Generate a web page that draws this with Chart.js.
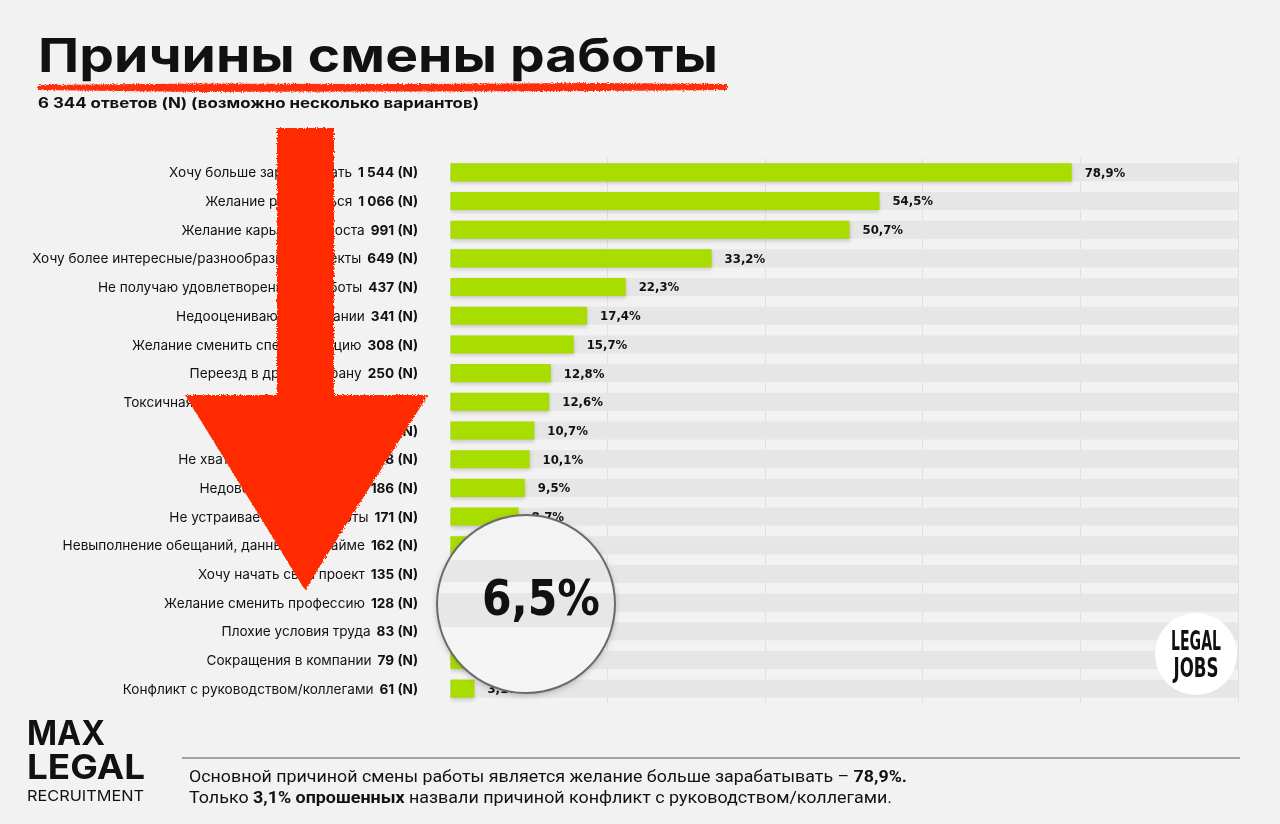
<!DOCTYPE html>
<html lang="ru">
<head>
<meta charset="utf-8">
<title>Причины смены работы</title>
<script src="https://cdn.jsdelivr.net/npm/chart.js@4.4.1/dist/chart.umd.min.js"></script>
<style>
  html, body { margin: 0; padding: 0; background: #f2f2f2; }
  #wrap { position: relative; width: 1280px; height: 824px; overflow: hidden; background: #f2f2f2; }
  #chart, #overlay { position: absolute; left: 0; top: 0; }
  #overlay { pointer-events: none; }
</style>
</head>
<body>
<div id="wrap">
  <canvas id="chart" width="1280" height="824"></canvas>

  <svg id="overlay" width="1280" height="824" viewBox="0 0 1280 824">
    <defs>
      <filter id="rough" x="-5%" y="-5%" width="110%" height="110%">
        <feTurbulence type="fractalNoise" baseFrequency="0.9" numOctaves="2" result="noise"/>
        <feDisplacementMap in="SourceGraphic" in2="noise" scale="4"/>
      </filter>
      <filter id="lensShadow" x="-20%" y="-20%" width="140%" height="140%">
        <feDropShadow dx="0" dy="2" stdDeviation="3" flood-color="#000" flood-opacity="0.25"/>
      </filter>
      <clipPath id="lens"><circle cx="526" cy="604" r="89"/></clipPath>
    </defs>

    <!-- заголовок -->
    <text x="38" y="72" font-family="Inter" font-weight="700" font-size="47" fill="#111"
          textLength="680" lengthAdjust="spacingAndGlyphs">Причины смены работы</text>
    <polygon filter="url(#rough)" fill="#ff2d10"
             points="38,85 200,83.5 400,84 600,83 727,84 727,90 600,91 400,91.5 200,92 38,90"/>
    <text x="38" y="108" font-family="Inter" font-weight="700" font-size="14" fill="#111"
          textLength="441" lengthAdjust="spacingAndGlyphs">6 344 ответов (N) (возможно несколько вариантов)</text>

    <!-- стрелка -->
    <polygon filter="url(#rough)" fill="#ff2a00"
             points="277,128 334,128 334,395 428,395 305,590 185,395 277,395"/>

    <!-- лупа -->
    <circle cx="526" cy="604" r="89" fill="#f3f3f3" filter="url(#lensShadow)"/>
    <g clip-path="url(#lens)">
      <rect x="430" y="560" width="200" height="22" fill="#e7e7e7"/>
      <rect x="430" y="593" width="200" height="34" fill="#e7e7e7"/>
      <rect x="430" y="627" width="200" height="70" fill="#f5f5f5"/>
    </g>
    <text x="541" y="615" text-anchor="middle" font-family="DejaVu Sans Condensed, DejaVu Sans" font-weight="700"
          font-size="50" fill="#111" textLength="118" lengthAdjust="spacingAndGlyphs">6,5%</text>
    <circle cx="526" cy="604" r="89" fill="none" stroke="#6b6b6b" stroke-width="2"/>

    <!-- логотип LEGAL JOBS -->
    <circle cx="1196" cy="654" r="41" fill="#ffffff"/>
    <text x="1196" y="650" text-anchor="middle" font-family="DejaVu Sans Condensed, DejaVu Sans" font-weight="700"
          font-size="27" fill="#111" textLength="50" lengthAdjust="spacingAndGlyphs">LEGAL</text>
    <text x="1196" y="677" text-anchor="middle" font-family="DejaVu Sans Condensed, DejaVu Sans" font-weight="700"
          font-size="27" fill="#111" textLength="45" lengthAdjust="spacingAndGlyphs">JOBS</text>

    <!-- подвал -->
    <text x="27" y="745" font-family="Inter" font-weight="700" font-size="34" fill="#111"
          textLength="78" lengthAdjust="spacingAndGlyphs">MAX</text>
    <text x="27" y="779" font-family="Inter" font-weight="700" font-size="34" fill="#111"
          textLength="118" lengthAdjust="spacingAndGlyphs">LEGAL</text>
    <text x="27" y="801" font-family="Inter" font-weight="400" font-size="15" fill="#111"
          textLength="117" lengthAdjust="spacingAndGlyphs">RECRUITMENT</text>

    <line x1="182" y1="758" x2="1240" y2="758" stroke="#a3a3a3" stroke-width="2"/>
    <text x="189" y="782" font-family="Roboto" font-size="16.5" fill="#111"
          textLength="718" lengthAdjust="spacingAndGlyphs">Основной причиной смены работы является желание больше зарабатывать – <tspan font-weight="700">78,9%.</tspan></text>
    <text x="189" y="803" font-family="Roboto" font-size="16.5" fill="#111"
          textLength="703" lengthAdjust="spacingAndGlyphs">Только <tspan font-weight="700">3,1% опрошенных</tspan> назвали причиной конфликт с руководством/коллегами.</text>
  </svg>
</div>

<script>
// Данные опроса
const categories = [
    'Хочу больше зарабатывать',
    'Желание развиваться',
    'Желание карьерного роста',
    'Хочу более интересные/разнообразные проекты',
    'Не получаю удовлетворения от работы',
    'Недооценивают в компании',
    'Желание сменить специализацию',
    'Переезд в другую страну',
    'Токсичная атмосфера в коллективе',
    'Нет перспектив роста',
    'Не хватает гибкого графика',
    'Недовольство графиком',
    'Не устраивает режим работы',
    'Невыполнение обещаний, данных при найме',
    'Хочу начать свой проект',
    'Желание сменить профессию',
    'Плохие условия труда',
    'Сокращения в компании',
    'Конфликт с руководством/коллегами'
];
const respondents = ['1 544', '1 066', '991', '649', '437', '341', '308', '250', '247', '209',
    '198', '186', '171', '162', '135', '128', '83', '79', '61'];
const percents = [78.9, 54.5, 50.7, 33.2, 22.3, 17.4, 15.7, 12.8, 12.6, 10.7,
    10.1, 9.5, 8.7, 8.3, 6.9, 6.5, 4.2, 4.0, 3.1];
const xTicks = [0, 20, 40, 60, 80, 100];

const barColor = '#a9dd00';
const trackColor = '#e6e6e6';

// Серые дорожки под столбцами (от 0 до максимума шкалы)
const trackPlugin = {
    id: 'tracks',
    beforeDatasetsDraw(chart) {
        const { ctx, scales: { x } } = chart;
        const x0 = x.getPixelForValue(xTicks[0]);
        const x1 = x.getPixelForValue(xTicks[xTicks.length - 1]);
        ctx.save();
        ctx.fillStyle = trackColor;
        chart.getDatasetMeta(0).data.forEach(bar => {
            const { y, height } = bar.getProps(['y', 'height'], true);
            ctx.fillRect(x0, y - height / 2, x1 - x0, height);
        });
        ctx.restore();
    },
    beforeDatasetDraw(chart) {
        const ctx = chart.ctx;
        ctx.shadowColor = 'rgba(0,0,0,0.18)';
        ctx.shadowBlur = 4;
        ctx.shadowOffsetY = 2;
    },
    afterDatasetDraw(chart) {
        const ctx = chart.ctx;
        ctx.shadowColor = 'transparent';
        ctx.shadowBlur = 0;
        ctx.shadowOffsetY = 0;
    }
};

// Подписи категорий слева и проценты справа от столбцов
const labelsPlugin = {
    id: 'labels',
    afterDatasetsDraw(chart) {
        const { ctx, scales: { x, y } } = chart;
        const rightEdge = 418;
        ctx.save();
        ctx.textBaseline = 'middle';
        categories.forEach((name, i) => {
            const py = y.getPixelForValue(i) + 1;
            const count = respondents[i] + ' (N)';
            ctx.font = '700 13.6px Inter';
            ctx.fillStyle = '#111';
            ctx.textAlign = 'right';
            const w = ctx.measureText(count).width;
            ctx.fillText(count, rightEdge, py);
            ctx.font = '400 13.6px Inter';
            ctx.fillText(name, rightEdge - w - 6, py);

            ctx.font = '700 13px "DejaVu Sans Condensed", "DejaVu Sans"';
            ctx.textAlign = 'left';
            ctx.fillText(percents[i].toFixed(1).replace('.', ',') + '%', x.getPixelForValue(percents[i]) + 13, py);
        });
        ctx.restore();
    }
};

function inicializarGrafico() {
    const ctx = document.getElementById('chart').getContext('2d');
    new Chart(ctx, {
        type: 'bar',
        data: {
            labels: categories,
            datasets: [{
                data: percents,
                backgroundColor: barColor,
                borderWidth: 0,
                categoryPercentage: 1,
                barPercentage: 0.63
            }]
        },
        options: {
            indexAxis: 'y',
            responsive: false,
            animation: false,
            devicePixelRatio: 1,
            layout: { padding: { left: 450, right: 42, top: 158, bottom: 121 } },
            plugins: {
                legend: { display: false },
                tooltip: { enabled: false }
            },
            scales: {
                x: {
                    min: xTicks[0],
                    max: xTicks[xTicks.length - 1],
                    afterBuildTicks: axis => { axis.ticks = xTicks.map(v => ({ value: v })); },
                    ticks: { display: false },
                    border: { display: false },
                    grid: {
                        drawTicks: false,
                        color: c => c.tick && c.tick.value === 0 ? 'rgba(0,0,0,0)' : '#e0e0e0',
                        lineWidth: 1
                    }
                },
                y: {
                    display: false
                }
            }
        },
        plugins: [trackPlugin, labelsPlugin]
    });
}

document.addEventListener('DOMContentLoaded', inicializarGrafico);
</script>
</body>
</html>
